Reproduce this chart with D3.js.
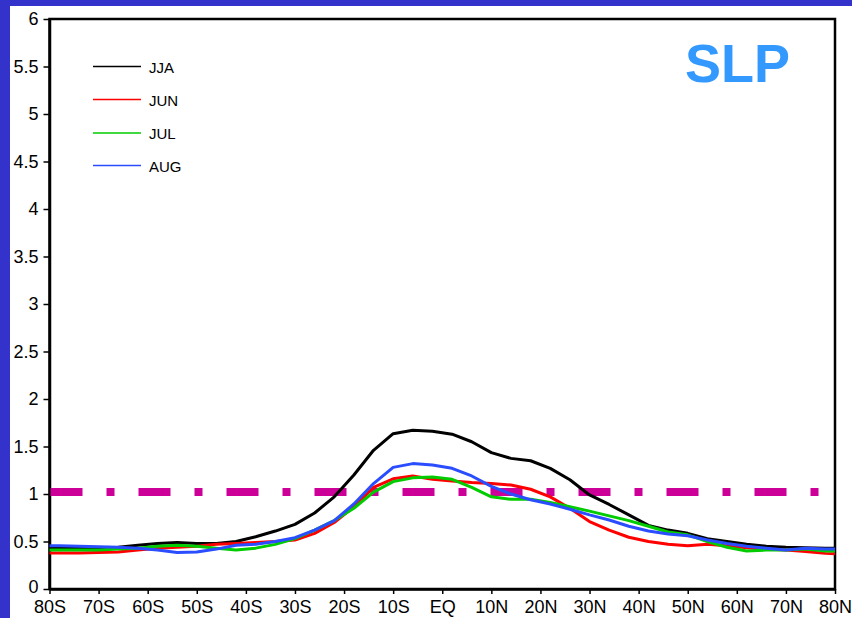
<!DOCTYPE html>
<html>
<head>
<meta charset="utf-8">
<script src="https://cdn.jsdelivr.net/npm/d3@7"></script>
<style>
  body { margin: 0; background: #fff; }
  svg { display: block; font-family: "Liberation Sans", Arial, sans-serif; }
</style>
</head>
<body>
<svg id="chart" width="852" height="618"></svg>
<script>
// latitude grid (deg, S negative)
var lats = [-80, -78, -74, -70, -66, -62, -58, -54, -50, -46, -42, -38, -34, -30, -26, -22, -18, -14, -10, -6,
            -2, 2, 6, 10, 14, 18, 22, 26, 30, 34, 38, 42, 46, 50, 54, 58, 62, 66, 70, 74, 78, 80];

var jja = [0.43, 0.43, 0.43, 0.43, 0.44, 0.46, 0.48, 0.49, 0.48, 0.48, 0.50, 0.55, 0.61, 0.68, 0.80, 0.97, 1.20, 1.46, 1.635, 1.67,
           1.66, 1.63, 1.55, 1.435, 1.375, 1.35, 1.27, 1.15, 0.99, 0.89, 0.78, 0.67, 0.62, 0.586, 0.53, 0.50, 0.47, 0.45, 0.44, 0.435, 0.43, 0.43];
var jun = [0.38, 0.38, 0.38, 0.385, 0.39, 0.41, 0.43, 0.44, 0.45, 0.47, 0.48, 0.49, 0.50, 0.516, 0.586, 0.70, 0.866, 1.07, 1.16, 1.19,
           1.155, 1.137, 1.12, 1.11, 1.095, 1.05, 0.97, 0.85, 0.71, 0.62, 0.545, 0.50, 0.47, 0.456, 0.47, 0.456, 0.435, 0.42, 0.41, 0.395, 0.375, 0.37];
var jul = [0.41, 0.41, 0.41, 0.41, 0.42, 0.43, 0.45, 0.46, 0.45, 0.43, 0.41, 0.43, 0.47, 0.53, 0.62, 0.72, 0.85, 1.02, 1.13, 1.17,
           1.18, 1.155, 1.07, 0.97, 0.944, 0.944, 0.91, 0.866, 0.82, 0.77, 0.72, 0.66, 0.60, 0.57, 0.50, 0.44, 0.40, 0.41, 0.41, 0.42, 0.40, 0.40];
var aug = [0.456, 0.455, 0.45, 0.445, 0.44, 0.43, 0.41, 0.385, 0.39, 0.42, 0.46, 0.47, 0.50, 0.54, 0.62, 0.72, 0.895, 1.11, 1.28, 1.32,
           1.305, 1.27, 1.19, 1.08, 1.00, 0.94, 0.895, 0.84, 0.78, 0.726, 0.66, 0.61, 0.58, 0.56, 0.516, 0.48, 0.45, 0.43, 0.41, 0.43, 0.42, 0.42];

var seriesNames = ["JJA", "JUN", "JUL", "AUG"];
var seriesColors = ["#000000", "#ff0000", "#00cc00", "#2a4dff"];
var seriesData = [jja, jun, jul, aug];

var refValue = 1.02;           // dash-dot reference line
var refEnd = 77;               // where the dash line stops
var yTicks = [0, 0.5, 1, 1.5, 2, 2.5, 3, 3.5, 4, 4.5, 5, 5.5, 6];
var xTicks = [-80, -70, -60, -50, -40, -30, -20, -10, 0, 10, 20, 30, 40, 50, 60, 70, 80];

var svg = d3.select("#chart");

// blue frame on the left and top
svg.append("rect").attr("x", 0).attr("y", 0).attr("width", 852).attr("height", 6).attr("fill", "#3333cc");
svg.append("rect").attr("x", 0).attr("y", 0).attr("width", 10).attr("height", 618).attr("fill", "#3333cc");

var x = d3.scaleLinear().domain([-80, 80]).range([49.5, 835]);
var y = d3.scaleLinear().domain([0, 6]).range([589, 19]);

function latLabel(d) {
  if (d === 0) return "EQ";
  return Math.abs(d) + (d < 0 ? "S" : "N");
}

// frame
svg.append("rect")
  .attr("x", x(-80)).attr("y", y(6))
  .attr("width", x(80) - x(-80)).attr("height", y(0) - y(6))
  .attr("fill", "none").attr("stroke", "#000").attr("stroke-width", 2.5);

var xAxis = svg.append("g")
  .attr("transform", "translate(0," + y(0) + ")")
  .call(d3.axisBottom(x).tickValues(xTicks).tickFormat(latLabel).tickSize(5).tickSizeOuter(0).tickPadding(6));

var yAxis = svg.append("g")
  .attr("transform", "translate(" + x(-80) + ",0)")
  .call(d3.axisLeft(y).tickValues(yTicks).tickFormat(d3.format("")).tickSize(6).tickSizeOuter(0).tickPadding(5));

[xAxis, yAxis].forEach(function (a) {
  a.select(".domain").attr("stroke-width", 2.5);
  a.selectAll(".tick line").attr("stroke-width", 1.5);
  a.selectAll(".tick text")
    .attr("font-family", "'Liberation Sans', Arial, sans-serif")
    .attr("font-size", 18)
    .attr("fill", "#000");
});
// first y label sits just above the x labels
yAxis.selectAll(".tick text").filter(function (d) { return d === 0; }).attr("dy", "0.2em");

// reference dash-dot line
svg.append("line")
  .attr("x1", x(-80) + 1).attr("x2", x(refEnd))
  .attr("y1", y(refValue)).attr("y2", y(refValue))
  .attr("stroke", "#cc0099")
  .attr("stroke-width", 8)
  .attr("stroke-dasharray", "32,24,8,24");

var line = d3.line()
  .x(function (d, i) { return x(lats[i]); })
  .y(function (d) { return y(d); });

seriesData.forEach(function (s, k) {
  svg.append("path")
    .datum(s)
    .attr("d", line)
    .attr("fill", "none")
    .attr("stroke", seriesColors[k])
    .attr("stroke-width", 3)
    .attr("stroke-linejoin", "round");
});

// legend
var legendY = [66.5, 99.5, 133, 165.5];
seriesNames.forEach(function (name, k) {
  svg.append("line")
    .attr("x1", 93).attr("x2", 141)
    .attr("y1", legendY[k]).attr("y2", legendY[k])
    .attr("stroke", seriesColors[k])
    .attr("stroke-width", 1.3);
  svg.append("text")
    .attr("x", 149)
    .attr("y", legendY[k] + 6)
    .attr("font-size", 15)
    .attr("fill", "#000")
    .text(name);
});

// title
svg.append("text")
  .attr("x", 685)
  .attr("y", 82)
  .attr("font-size", 54)
  .attr("font-weight", "bold")
  .attr("fill", "#3399ff")
  .text("SLP");
</script>
</body>
</html>
